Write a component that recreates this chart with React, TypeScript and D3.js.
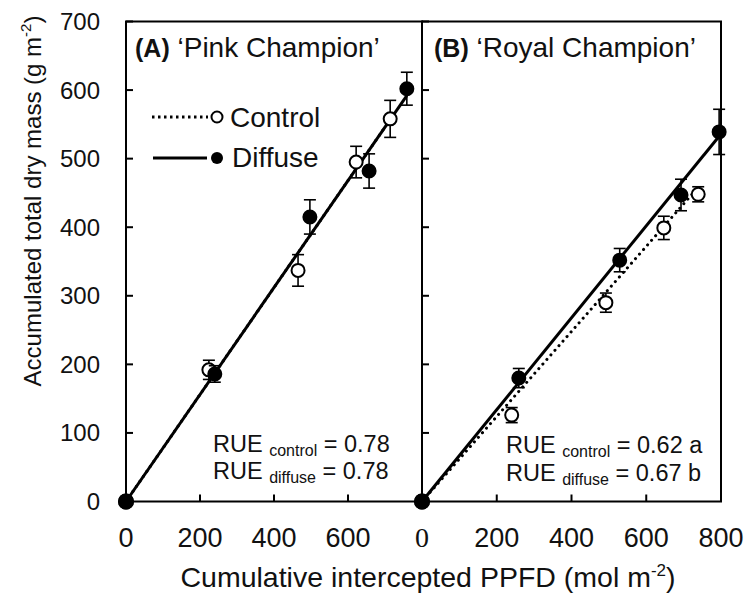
import React from "react";
import * as d3 from "d3";

// ---- data ----
const yTicks = [0, 100, 200, 300, 400, 500, 600, 700];
const xTicksA = [0, 200, 400, 600];
const xTicksB = [0, 200, 400, 600, 800];

const aControlX = [0, 224, 465, 622, 714];
const aControlY = [0, 192, 337, 495, 558];
const aControlErr = [0, 14, 23, 23, 27];
const aDiffuseX = [0, 240, 497, 657, 759];
const aDiffuseY = [0, 186, 415, 482, 602];
const aDiffuseErr = [0, 12, 25, 25, 24];

const bControlX = [0, 240, 492, 647, 739];
const bControlY = [0, 126, 290, 399, 448];
const bControlErr = [0, 11, 14, 17, 11];
const bDiffuseX = [0, 259, 529, 693, 795];
const bDiffuseY = [0, 180, 352, 447, 539];
const bDiffuseErr = [0, 14, 17, 23, 33];

const slopes = { aControl: 0.78, aDiffuse: 0.78, bControl: 0.62, bDiffuse: 0.67 };

const FONT = "'Liberation Sans', Arial, Helvetica, sans-serif";

const yScale = d3.scaleLinear().domain([0, 700]).range([501.5, 21.5]);
const xA = d3.scaleLinear().domain([0, 800]).range([126, 422]);
const xB = d3.scaleLinear().domain([0, 800]).range([422, 721]);

function fitLine(x: any, slope: number, xEnd: number) {
  const gen = d3
    .line<[number, number]>()
    .x((d) => x(d[0]))
    .y((d) => yScale(d[1]));
  return gen([
    [0, 0],
    [xEnd, slope * xEnd],
  ]) as string;
}

function Points({ x, xs, ys, errs, filled }: any) {
  return (
    <g>
      {xs.map((xv: number, i: number) => {
        const cx = x(xv);
        const cy = yScale(ys[i]);
        const e = errs[i];
        const y1 = yScale(ys[i] + e);
        const y2 = yScale(ys[i] - e);
        return (
          <g key={i}>
            {e > 0 && (
              <g stroke="#000" strokeWidth={1.6}>
                <line x1={cx} x2={cx} y1={y1} y2={y2} />
                <line x1={cx - 6} x2={cx + 6} y1={y1} y2={y1} />
                <line x1={cx - 6} x2={cx + 6} y1={y2} y2={y2} />
              </g>
            )}
            <circle
              cx={cx}
              cy={cy}
              r={xv === 0 ? 7 : 6.5}
              fill={filled ? "#000" : "#fff"}
              stroke="#000"
              strokeWidth={2}
            />
          </g>
        );
      })}
    </g>
  );
}

function Panel({ x, xTicks, labelFirstSerif }: any) {
  const [x0, x1] = x.range();
  const [yb, yt] = yScale.range();
  return (
    <g>
      {yTicks.map((t) => (
        <line key={"yt" + t} x1={x0} x2={x0 + 7} y1={yScale(t)} y2={yScale(t)} stroke="#000" strokeWidth={2} />
      ))}
      {[200, 400, 600].map((t) => (
        <line key={"xt" + t} x1={x(t)} x2={x(t)} y1={yb} y2={yb - 7} stroke="#000" strokeWidth={2} />
      ))}
      <rect x={x0} y={yt} width={x1 - x0} height={yb - yt} fill="none" stroke="#000" strokeWidth={2} />
      {xTicks.map((t: number) => (
        <text
          key={"xl" + t}
          x={x(t)}
          y={547}
          textAnchor="middle"
          fontSize={t === 0 && labelFirstSerif ? 28 : 27}
          fontFamily={t === 0 && labelFirstSerif ? "'Liberation Serif', 'Times New Roman', serif" : FONT}
          fill="#111"
        >
          {t}
        </text>
      ))}
    </g>
  );
}

export default function App() {
  const dotted = { stroke: "#000", strokeWidth: 3, strokeDasharray: "0.1 6", strokeLinecap: "round" as const, fill: "none" };
  const solid = { stroke: "#000", strokeWidth: 3, fill: "none" };
  return (
    <svg
      width={754}
      height={604}
      viewBox="0 0 754 604"
      style={{ position: "absolute", left: 0, top: 0, background: "#fff" }}
      fontFamily={FONT}
    >
      <rect width={754} height={604} fill="#fff" />

      {yTicks.map((t) => (
        <text key={t} x={100} y={yScale(t) + 8.5} textAnchor="end" fontSize={24} fill="#111">
          {t}
        </text>
      ))}

      <Panel x={xA} xTicks={xTicksA} />
      <Panel x={xB} xTicks={xTicksB} labelFirstSerif />

      <path d={fitLine(xA, slopes.aControl, aControlX[aControlX.length - 1])} {...dotted} />
      <path d={fitLine(xA, slopes.aDiffuse, aDiffuseX[aDiffuseX.length - 1])} {...solid} />
      <path d={fitLine(xB, slopes.bControl, bControlX[bControlX.length - 1])} {...dotted} />
      <path d={fitLine(xB, slopes.bDiffuse, bDiffuseX[bDiffuseX.length - 1])} {...solid} />

      <Points x={xA} xs={aControlX} ys={aControlY} errs={aControlErr} filled={false} />
      <Points x={xA} xs={aDiffuseX} ys={aDiffuseY} errs={aDiffuseErr} filled />
      <Points x={xB} xs={bControlX} ys={bControlY} errs={bControlErr} filled={false} />
      <Points x={xB} xs={bDiffuseX} ys={bDiffuseY} errs={bDiffuseErr} filled />

      <text x={135} y={57} fill="#111">
        <tspan fontWeight="bold" fontSize={25}>(A)</tspan>
        <tspan fontSize={28}> ‘Pink Champion’</tspan>
      </text>
      <text x={434} y={57} fill="#111">
        <tspan fontWeight="bold" fontSize={25}>(B)</tspan>
        <tspan fontSize={28}> ‘Royal Champion’</tspan>
      </text>

      <line x1={152} x2={208} y1={117} y2={117} {...dotted} strokeDasharray="2.5 3.5" strokeLinecap="butt" />
      <circle cx={217} cy={117} r={5.5} fill="#fff" stroke="#000" strokeWidth={2} />
      <text x={230} y={127} fontSize={28} fill="#111">Control</text>
      <line x1={153} x2={207} y1={158} y2={158} {...solid} />
      <circle cx={217} cy={158} r={6} fill="#000" />
      <text x={232} y={167} fontSize={28} fill="#111">Diffuse</text>

      <text x={213} y={452} fontSize={23.5} fill="#111">
        RUE <tspan fontSize={16} dy={4}>control</tspan>
        <tspan dy={-4}> = 0.78</tspan>
      </text>
      <text x={213} y={479} fontSize={23.5} fill="#111">
        RUE <tspan fontSize={16} dy={4}>diffuse</tspan>
        <tspan dy={-4}> = 0.78</tspan>
      </text>
      <text x={506} y={453} fontSize={23.5} fill="#111">
        RUE <tspan fontSize={16} dy={4}>control</tspan>
        <tspan dy={-4}> = 0.62 a</tspan>
      </text>
      <text x={506} y={481} fontSize={23.5} fill="#111">
        RUE <tspan fontSize={16} dy={4}>diffuse</tspan>
        <tspan dy={-4}> = 0.67 b</tspan>
      </text>

      <text x={428} y={587} textAnchor="middle" fontSize={28.5} fill="#111">
        Cumulative intercepted PPFD (mol m<tspan fontSize={17} dy={-11}>-2</tspan>
        <tspan dy={11}>)</tspan>
      </text>
      <text transform="translate(41,201) rotate(-90)" textAnchor="middle" fontSize={24} fill="#111">
        Accumulated total dry mass (g m<tspan fontSize={15} dy={-10}>-2</tspan>
        <tspan dy={10}>)</tspan>
      </text>
    </svg>
  );
}
